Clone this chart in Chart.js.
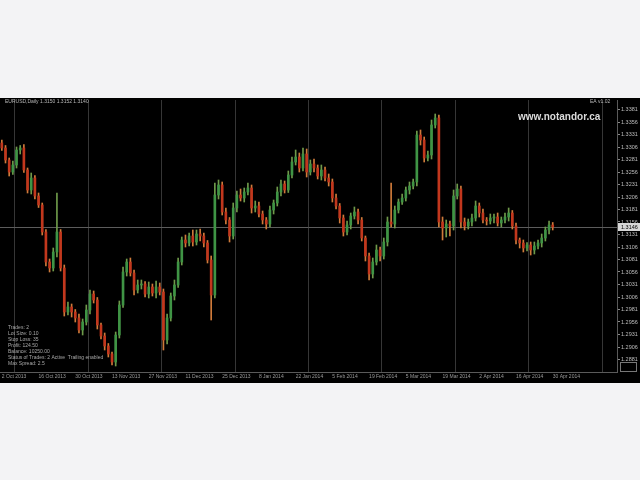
<!DOCTYPE html>
<html>
<head>
<meta charset="utf-8">
<script src="https://cdn.jsdelivr.net/npm/chart.js"></script>
<style>
    body { margin: 0; background: #f3f3f5; width: 640px; height: 480px; overflow: hidden; }
    .chart-box { position: absolute; left: 0; top: 98px; width: 640px; height: 285px; background: #000; }
    #priceChart { filter: blur(0.4px); }
</style>
</head>
<body>
<div class="chart-box"><canvas id="priceChart" width="640" height="285"></canvas></div>
<script>
// 行情数据（日线收盘价）
const firstOpen = 1.3314;
const closes = [
    1.3304, 1.3280, 1.3256, 1.3270, 1.3300, 1.3304, 1.3260, 1.3220, 1.3244, 1.3208,
    1.3190, 1.3136, 1.3076, 1.3064, 1.3096, 1.3136, 1.3064, 1.2976, 1.2986, 1.2976,
    1.2964, 1.2940, 1.2956, 1.2980, 1.3012, 1.3000, 1.2950, 1.2928, 1.2908, 1.2892,
    1.2876, 1.2930, 1.2990, 1.3056, 1.3076, 1.3054, 1.3020, 1.3030, 1.3032, 1.3012,
    1.3026, 1.3014, 1.3026, 1.3016, 1.2920, 1.2964, 1.3008, 1.3030, 1.3076, 1.3120,
    1.3114, 1.3128, 1.3116, 1.3132, 1.3128, 1.3114, 1.3080, 1.3010, 1.3210, 1.3230,
    1.3176, 1.3160, 1.3128, 1.3184, 1.3210, 1.3204, 1.3216, 1.3224, 1.3184, 1.3188,
    1.3172, 1.3160, 1.3152, 1.3180, 1.3194, 1.3216, 1.3232, 1.3220, 1.3250, 1.3276,
    1.3286, 1.3264, 1.3292, 1.3256, 1.3272, 1.3264, 1.3248, 1.3260, 1.3244, 1.3236,
    1.3204, 1.3188, 1.3164, 1.3136, 1.3150, 1.3168, 1.3176, 1.3160, 1.3124, 1.3088,
    1.3052, 1.3076, 1.3100, 1.3088, 1.3116, 1.3156, 1.3152, 1.3180, 1.3196, 1.3204,
    1.3220, 1.3228, 1.3236, 1.3330, 1.3320, 1.3284, 1.3290, 1.3350, 1.3364, 1.3156,
    1.3144, 1.3152, 1.3148, 1.3208, 1.3222, 1.3156, 1.3148, 1.3156, 1.3164, 1.3188,
    1.3174, 1.3160, 1.3158, 1.3164, 1.3166, 1.3154, 1.3160, 1.3166, 1.3174, 1.3148,
    1.3120, 1.3114, 1.3104, 1.3110, 1.3100, 1.3108, 1.3114, 1.3124, 1.3140, 1.3150,
    1.3146
];
// 影线长度（点）
const upperWicks = [
    6, 5, 4, 8, 6, 5, 7, 4, 10, 5,
    6, 4, 5, 6, 8, 78, 5, 6, 10, 6,
    5, 8, 6, 10, 8, 6, 5, 4, 6, 5,
    4, 6, 8, 10, 6, 8, 6, 10, 8, 5,
    10, 6, 12, 8, 6, 8, 6, 10, 8, 6,
    10, 6, 12, 8, 10, 6, 5, 8, 24, 10,
    6, 8, 5, 10, 8, 12, 8, 10, 6, 10,
    8, 6, 5, 8, 6, 10, 8, 6, 8, 10,
    14, 8, 12, 10, 8, 10, 6, 10, 6, 8,
    6, 8, 5, 6, 8, 6, 10, 6, 5, 4,
    6, 8, 10, 6, 8, 10, 78, 8, 6, 8,
    6, 8, 6, 8, 10, 6, 8, 10, 8, 6,
    10, 8, 6, 12, 10, 6, 8, 6, 8, 10,
    6, 8, 5, 8, 6, 8, 6, 8, 10, 5,
    6, 4, 6, 5, 6, 8, 6, 8, 6, 8,
    5
];
const lowerWicks = [
    5, 6, 8, 5, 6, 8, 5, 6, 8, 6,
    5, 6, 8, 8, 6, 10, 6, 8, 6, 10,
    8, 6, 10, 6, 8, 6, 8, 6, 8, 6,
    6, 8, 6, 5, 8, 6, 10, 6, 8, 6,
    8, 6, 10, 6, 20, 8, 6, 8, 5, 6,
    8, 6, 8, 6, 10, 8, 6, 50, 6, 8,
    6, 8, 12, 6, 8, 6, 8, 6, 10, 8,
    6, 8, 10, 6, 8, 6, 8, 6, 5, 6,
    6, 8, 6, 10, 6, 8, 6, 8, 6, 8,
    8, 6, 10, 8, 6, 8, 6, 8, 6, 10,
    12, 8, 6, 10, 6, 8, 6, 8, 6, 5,
    6, 8, 6, 8, 10, 8, 6, 8, 6, 10,
    24, 18, 20, 8, 6, 12, 8, 6, 8, 6,
    8, 6, 8, 6, 10, 6, 8, 6, 8, 6,
    8, 10, 8, 6, 10, 8, 6, 8, 6, 8,
    6
];
const timeLabels = [
    '2 Oct 2013', '16 Oct 2013', '30 Oct 2013', '13 Nov 2013', '27 Nov 2013', '11 Dec 2013',
    '25 Dec 2013', '8 Jan 2014', '22 Jan 2014', '5 Feb 2014', '19 Feb 2014', '5 Mar 2014',
    '19 Mar 2014', '2 Apr 2014', '16 Apr 2014', '30 Apr 2014'
];
const priceTicks = [
    1.3381, 1.3356, 1.3331, 1.3306, 1.3281, 1.3256, 1.3231, 1.3206, 1.3181, 1.3156, 1.3131,
    1.3106, 1.3081, 1.3056, 1.3031, 1.3006, 1.2981, 1.2956, 1.2931, 1.2906, 1.2881
];
const infoLines = [
    'Trades: 2',
    'Lot Size: 0.10',
    'Stop Loss: 35',
    'Profit: 124.50',
    'Balance: 10250.00',
    'Status of Trades: 2 Active  Trailing enabled',
    'Max Spread: 2.5'
];
const headerText = 'EURUSD,Daily 1.3150 1.3152 1.3140';
const cornerText = 'EA v1.02';
const watermark = 'www.notandor.ca';

const pip = 0.0001;
const emptyBars = 17;

const opens = closes.map((c, i) => i ? closes[i - 1] : firstOpen);
const highs = closes.map((c, i) => Math.max(c, opens[i]) + upperWicks[i] * pip);
const lows = closes.map((c, i) => Math.min(c, opens[i]) - lowerWicks[i] * pip);
const isUp = closes.map((c, i) => c >= opens[i]);
const labels = [...Array(closes.length + emptyBars).keys()];

// 叠加文字、买价线
const overlayPlugin = {
    id: 'overlay',
    beforeDatasetsDraw(chart) {
        const { ctx, chartArea, scales } = chart;
        const y = Math.round(scales.y.getPixelForValue(closes[closes.length - 1])) + 0.5;
        ctx.save();
        ctx.strokeStyle = '#5c5c5c';
        ctx.lineWidth = 1;
        ctx.beginPath();
        ctx.moveTo(chartArea.left, y);
        ctx.lineTo(chartArea.right, y);
        ctx.stroke();
        ctx.restore();
    },
    afterDraw(chart) {
        const { ctx, chartArea, scales } = chart;
        const last = closes[closes.length - 1];
        const y = Math.round(scales.y.getPixelForValue(last));
        ctx.save();
        ctx.textBaseline = 'middle';

        // 买价标签
        ctx.fillStyle = '#d6d6d6';
        ctx.fillRect(chartArea.right + 1, y - 4, 22, 8);
        ctx.fillStyle = '#000';
        ctx.font = '5.5px "Liberation Sans"';
        ctx.fillText(last.toFixed(4), chartArea.right + 4, y);

        // 标题
        ctx.fillStyle = '#b8b8b8';
        ctx.font = '5px "Liberation Sans"';
        ctx.fillText(headerText, 5, 4);
        ctx.fillText(cornerText, 590, 4);

        // 网址水印
        ctx.fillStyle = '#dcdcdc';
        ctx.font = 'bold 10px "Liberation Sans"';
        ctx.fillText(watermark, 518, 19);

        // 信息栏
        ctx.fillStyle = '#a8a8a8';
        ctx.font = '5px "Liberation Sans"';
        infoLines.forEach((line, i) => ctx.fillText(line, 8, 230 + i * 6));

        // 右下角小框
        ctx.strokeStyle = '#777';
        ctx.strokeRect(620.5, 264.5, 16, 9);
        ctx.restore();
    }
};

new Chart(document.getElementById('priceChart'), {
    type: 'bar',
    data: {
        labels: labels,
        datasets: [{
            label: 'wick',
            data: closes.map((c, i) => [lows[i], highs[i]]),
            backgroundColor: isUp.map(u => u ? '#6f9a4a' : '#cf7a3a'),
            barThickness: 1,
            grouped: false,
            order: 2
        }, {
            label: 'body',
            data: closes.map((c, i) => [opens[i], c]),
            backgroundColor: isUp.map(u => u ? '#3f9445' : '#c2371d'),
            barThickness: 2,
            minBarLength: 1,
            grouped: false,
            order: 1
        }]
    },
    options: {
        responsive: false,
        animation: false,
        layout: { padding: { top: 2, left: 0, right: 0, bottom: 0 } },
        plugins: {
            legend: { display: false },
            tooltip: { enabled: false }
        },
        scales: {
            x: {
                offset: true,
                border: { color: '#5a5a5a' },
                grid: {
                    color: ctx => ctx.index % 20 === 4 ? '#363636' : 'transparent',
                    drawTicks: false
                },
                ticks: {
                    autoSkip: false,
                    maxRotation: 0,
                    padding: 2,
                    align: 'start',
                    color: '#9a9a9a',
                    font: { size: 5, family: 'Liberation Sans' },
                    callback: (v, i) => i % 10 === 0 && i / 10 < timeLabels.length ? timeLabels[i / 10] : ''
                },
                afterFit(scale) {
                    scale.height = 11;
                    scale.paddingLeft = 0;
                    scale.paddingRight = 0;
                }
            },
            y: {
                position: 'right',
                min: 1.2856,
                max: 1.3400,
                border: { color: '#5a5a5a' },
                grid: { drawOnChartArea: false, drawTicks: true, tickLength: 3, color: '#888' },
                ticks: {
                    padding: 1,
                    color: '#bdbdbd',
                    font: { size: 5.5, family: 'Liberation Sans' },
                    callback: v => v.toFixed(4)
                },
                afterBuildTicks(scale) {
                    scale.ticks = priceTicks.map(v => ({ value: v }));
                },
                afterFit(scale) {
                    scale.width = 23;
                    scale.paddingTop = 0;
                    scale.paddingBottom = 0;
                }
            }
        }
    },
    plugins: [overlayPlugin]
});
</script>
</body>
</html>
